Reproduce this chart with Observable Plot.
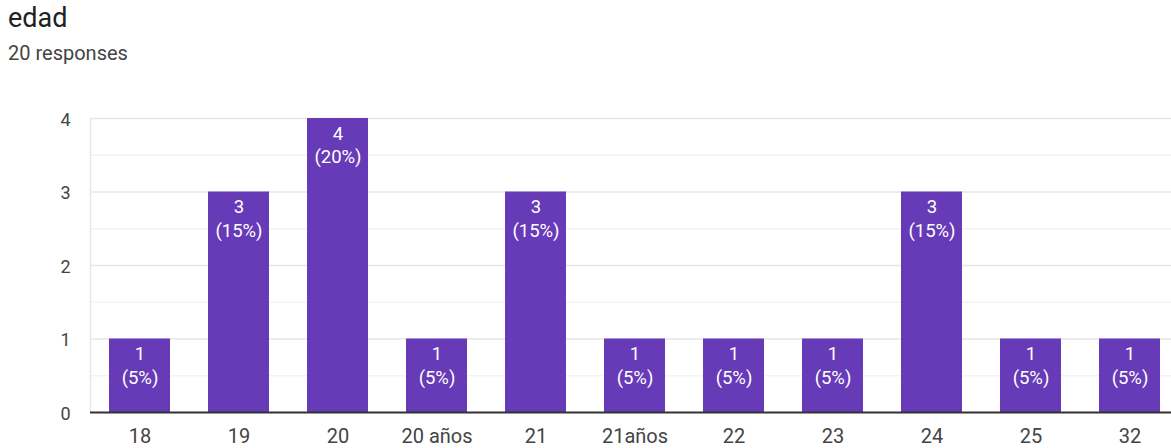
<!DOCTYPE html>
<html>
<head>
<meta charset="utf-8">
<script src="https://cdn.jsdelivr.net/npm/d3@7"></script>
<script src="https://cdn.jsdelivr.net/npm/@observablehq/plot@0.6"></script>
<style>
  html, body { margin: 0; padding: 0; background: #fff; width: 1171px; height: 448px; overflow: hidden; }
  #title { position: absolute; left: 8px; top: 2px; font: 27px Roboto, sans-serif; color: #202124; }
  #subtitle { position: absolute; left: 8px; top: 41px; font: 20px Roboto, sans-serif; color: #444; }
  #chart { position: absolute; left: 0; top: 75px; }
</style>
</head>
<body>
<div id="title">edad</div>
<div id="subtitle">20 responses</div>
<div id="chart"></div>
<script>
const categories = ["18", "19", "20", "20 años", "21", "21años", "22", "23", "24", "25", "32"];
const counts = [1, 3, 4, 1, 3, 1, 1, 1, 3, 1, 1];
const percents = [5, 15, 20, 5, 15, 5, 5, 5, 15, 5, 5];
const yTicks = [0, 1, 2, 3, 4];
const majorGrid = [1, 2, 3, 4];
const minorGrid = [0.5, 1.5, 2.5, 3.5];

const data = categories.map((c, i) => ({ cat: c, count: counts[i], pct: percents[i] }));

const chart = Plot.plot({
  width: 1171,
  height: 373,
  marginTop: 43,
  marginBottom: 36,
  marginLeft: 90,
  marginRight: 0,
  style: { fontFamily: "Roboto, sans-serif", fontSize: "20px", color: "#444", background: "transparent" },
  x: { domain: categories, range: [90, 1179], paddingInner: 0.38, paddingOuter: 0.19, label: null },
  y: { domain: [0, 4], label: null },
  marks: [
    Plot.ruleY(minorGrid, { stroke: "#f3f3f3", strokeWidth: 1.5 }),
    Plot.ruleY(majorGrid, { stroke: "#e6e6e6", strokeWidth: 1.5 }),
    Plot.frame({ anchor: "left", stroke: "#e6e6e6", strokeWidth: 1.5 }),
    Plot.barY(data, { x: "cat", y: "count", fill: "#673ab7" }),
    Plot.ruleY([0], { stroke: "#333", strokeWidth: 2 }),
    Plot.text(data, {
      x: "cat", y: "count",
      text: d => `${d.count}\n(${d.pct}%)`,
      fill: "white", lineAnchor: "top", dy: 5, lineHeight: 1.25, fontSize: 18.5
    }),
    Plot.axisY({ ticks: yTicks, tickSize: 0, tickPadding: 20, dy: 1.5, tickFormat: d3.format("d"), fontSize: 18, fill: "#444" }),
    Plot.axisX({ tickSize: 0, tickPadding: 16, fontSize: 20, fill: "#444" })
  ]
});
document.getElementById("chart").appendChild(chart);
</script>
</body>
</html>
